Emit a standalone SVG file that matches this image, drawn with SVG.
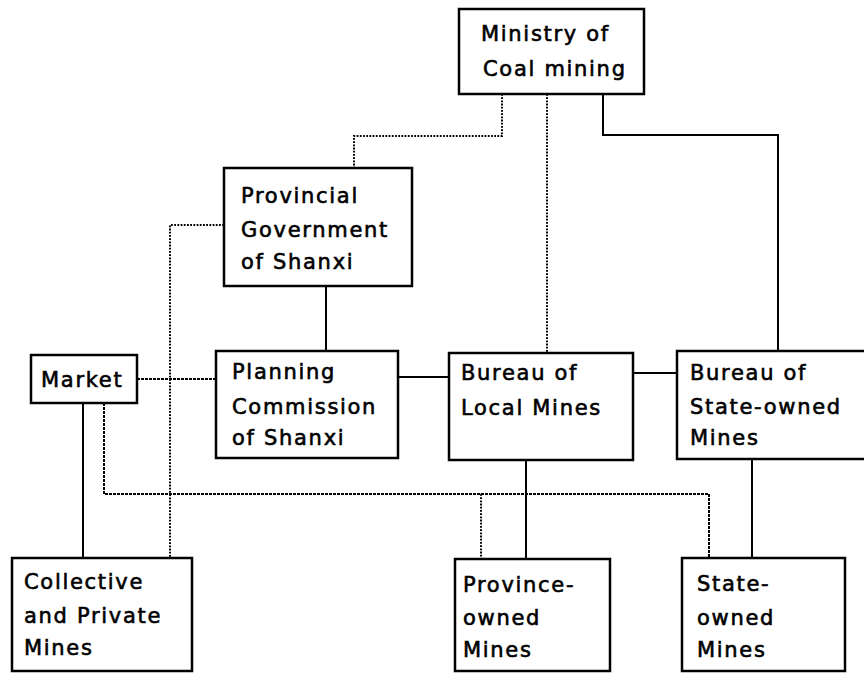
<svg xmlns="http://www.w3.org/2000/svg" width="864" height="673" viewBox="0 0 864 673">
  <style>
    .box { fill: #fff; stroke: #000; stroke-width: 2.5; }
    .solid { fill: none; stroke: #000; stroke-width: 2; }
    .dot { fill: none; stroke: #000; stroke-width: 2; stroke-dasharray: 1.8 1.4; }
    text { font-family: "DejaVu Sans", "Liberation Sans", sans-serif; font-size: 21px; letter-spacing: 1.7px; fill: #000; stroke: #000; stroke-width: 0.6; }
  </style>
  <rect width="864" height="673" fill="#fff"/>

  <!-- connectors -->
  <g id="connectors">
    <!-- Ministry to Provincial Government (dotted) -->
    <polyline class="dot" points="502,94 502,136 354,136 354,168"/>
    <!-- Ministry to Bureau of Local Mines (dotted) -->
    <line class="dot" x1="547" y1="94" x2="547" y2="352"/>
    <!-- Ministry to Bureau of State-owned Mines -->
    <polyline class="solid" points="603,94 603,135 778,135 778,351"/>
    <!-- Provincial Government to Planning Commission -->
    <line class="solid" x1="326" y1="286" x2="326" y2="351"/>
    <!-- Provincial Government to Collective and Private Mines (dotted) -->
    <polyline class="dot" points="224,225 170,225 170,558"/>
    <!-- Market to Planning Commission -->
    <line class="dot" x1="137" y1="379" x2="216" y2="379" style="stroke-dasharray: 3 1"/>
    <!-- Planning to Bureau of Local Mines -->
    <line class="solid" x1="398" y1="377" x2="449" y2="377"/>
    <!-- Local Mines to State-owned Bureau -->
    <line class="solid" x1="633" y1="373" x2="677" y2="373"/>
    <!-- Market to Collective and Private Mines -->
    <line class="solid" x1="83" y1="403" x2="83" y2="558"/>
    <!-- Market to Province-owned and State-owned Mines (dotted) -->
    <polyline class="dot" points="104,403 104,494 709,494 709,558" style="stroke-dasharray: 3 1"/>
    <line class="dot" x1="481" y1="494" x2="481" y2="559"/>
    <!-- Bureaus to their mines -->
    <line class="solid" x1="526" y1="460" x2="526" y2="559"/>
    <line class="solid" x1="752" y1="459" x2="752" y2="558"/>
  </g>

  <g id="ministry">
    <rect class="box" x="459" y="9" width="185" height="85"/>
    <text x="481" y="41">Ministry of</text>
    <text x="483" y="76">Coal mining</text>
  </g>

  <g id="provincial-government">
    <rect class="box" x="224" y="168" width="188" height="118"/>
    <text x="241" y="203">Provincial</text>
    <text x="241" y="237">Government</text>
    <text x="241" y="269">of Shanxi</text>
  </g>

  <g id="market">
    <rect class="box" x="31" y="355" width="106" height="48"/>
    <text x="41" y="387">Market</text>
  </g>

  <g id="planning-commission">
    <rect class="box" x="216" y="351" width="182" height="107"/>
    <text x="232" y="379">Planning</text>
    <text x="232" y="414">Commission</text>
    <text x="232" y="445">of Shanxi</text>
  </g>

  <g id="local-mines-bureau">
    <rect class="box" x="449" y="353" width="184" height="107"/>
    <text x="461" y="380">Bureau of</text>
    <text x="461" y="415">Local Mines</text>
  </g>

  <g id="state-mines-bureau">
    <rect class="box" x="677" y="351" width="195" height="108"/>
    <text x="690" y="380">Bureau of</text>
    <text x="690" y="414">State-owned</text>
    <text x="690" y="445">Mines</text>
  </g>

  <g id="collective-private-mines">
    <rect class="box" x="12" y="558" width="180" height="113"/>
    <text x="24" y="589">Collective</text>
    <text x="24" y="623">and Private</text>
    <text x="24" y="655">Mines</text>
  </g>

  <g id="province-owned-mines">
    <rect class="box" x="455" y="559" width="155" height="112"/>
    <text x="463" y="592">Province-</text>
    <text x="463" y="625">owned</text>
    <text x="463" y="657">Mines</text>
  </g>

  <g id="state-owned-mines">
    <rect class="box" x="682" y="558" width="163" height="113"/>
    <text x="697" y="591">State-</text>
    <text x="697" y="625">owned</text>
    <text x="697" y="657">Mines</text>
  </g>
</svg>
